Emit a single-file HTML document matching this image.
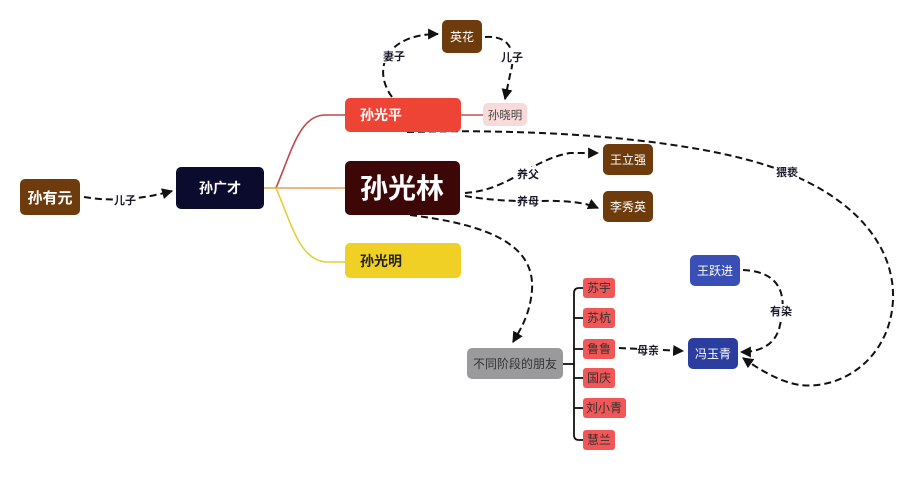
<!DOCTYPE html>
<html>
<head>
<meta charset="utf-8">
<style>
  html,body{margin:0;padding:0;background:#fff;}
  svg{display:block;}
  text{font-family:"Liberation Sans","Noto Sans CJK SC",sans-serif;}
</style>
</head>
<body>
<svg width="915" height="500" viewBox="0 0 915 500" xmlns="http://www.w3.org/2000/svg">
  <defs>
    <marker id="ah" viewBox="0 0 10 10" refX="9" refY="5" markerWidth="5.5" markerHeight="5.5" orient="auto-start-reverse">
      <path d="M0,0 L10,5 L0,10 z" fill="#111"/>
    </marker>
  </defs>
  <rect width="915" height="500" fill="#fff"/>

  <!-- solid branch lines from 孙广才 -->
  <path d="M264,188 L276,188" stroke="#d9b640" stroke-width="1.6" fill="none"/>
  <path d="M276,188 C292,150 300,115 325,115 L345,115" stroke="#c0474a" stroke-width="1.6" fill="none"/>
  <path d="M276,188 L345,188" stroke="#e8a050" stroke-width="1.6" fill="none"/>
  <path d="M276,188 C292,225 300,262 328,262 L345,262" stroke="#e6cf3a" stroke-width="1.6" fill="none"/>
  <!-- 孙光平 to 孙晓明 -->
  <path d="M461,115 L483,115" stroke="#c85055" stroke-width="1.4" fill="none"/>

  <!-- friends bracket -->
  <g stroke="#111" stroke-width="1.8" fill="none">
    <path d="M563,364 L574,364"/>
    <path d="M583,288 L579,288 Q574,288 574,293 L574,435 Q574,440 579,440 L583,440"/>
    <path d="M574,318 L583,318"/>
    <path d="M574,349 L583,349"/>
    <path d="M574,378 L583,378"/>
    <path d="M574,408 L583,408"/>
  </g>

  <!-- dashed connectors -->
  <g stroke="#111" stroke-width="2" fill="none" stroke-dasharray="7,4">
    <path d="M84,197 Q125,204 172,191" marker-end="url(#ah)"/>
    <path d="M392,97 C372,70 385,34 438,34" marker-end="url(#ah)"/>
    <path d="M485,37 C515,35 515,58 510,75 L505,99" marker-end="url(#ah)"/>
    <path d="M465,193 C510,190 530,160 570,153 L598,153" marker-end="url(#ah)"/>
    <path d="M465,196 Q500,202 540,201 Q580,200 598,208" marker-end="url(#ah)"/>
    <path d="M410,215 C490,225 535,245 532,290 C530,315 520,330 513,342" marker-end="url(#ah)"/>
    <path d="M619,348 L683,351" marker-end="url(#ah)"/>
    <path d="M743,270 C785,272 786,300 780,325 C776,345 760,352 741,352" marker-end="url(#ah)"/>
    <path d="M407,132 C550,128 700,140 780,170 C860,200 895,250 893,300 C890,360 840,390 800,385 C780,382 760,370 743,358" marker-end="url(#ah)"/>
  </g>

  <!-- connector labels -->
  <g font-size="11" font-weight="bold" fill="#1a1a2a" text-anchor="middle">
    <rect x="114" y="193" width="22" height="14" fill="#fff"/>
    <text x="125" y="204">儿子</text>
    <rect x="382" y="49" width="24" height="14" fill="#fff"/>
    <text x="394" y="60">妻子</text>
    <rect x="500" y="50" width="24" height="14" fill="#fff"/>
    <text x="512" y="61">儿子</text>
    <rect x="516" y="167" width="24" height="14" fill="#fff"/>
    <text x="528" y="178">养父</text>
    <rect x="516" y="194" width="24" height="14" fill="#fff"/>
    <text x="528" y="205">养母</text>
    <rect x="637" y="343" width="22" height="14" fill="#fff"/>
    <text x="648" y="354">母亲</text>
    <rect x="769" y="304" width="24" height="14" fill="#fff"/>
    <text x="781" y="315">有染</text>
    <rect x="775" y="165" width="24" height="14" fill="#fff"/>
    <text x="787" y="176">猥亵</text>
  </g>

  <!-- nodes -->
  <rect x="20" y="179" width="60" height="36" rx="5" fill="#6e3b0c"/>
  <text x="50" y="203" font-size="15" font-weight="bold" fill="#fff" text-anchor="middle">孙有元</text>

  <rect x="176" y="167" width="88" height="42" rx="5" fill="#0b0b2d"/>
  <text x="220" y="193" font-size="14" font-weight="bold" fill="#fff" text-anchor="middle">孙广才</text>

  <rect x="345" y="98" width="116" height="34" rx="5" fill="#ee4435"/>
  <text x="360" y="120" font-size="14" font-weight="bold" fill="#fff">孙光平</text>

  <rect x="483" y="103" width="44" height="23" rx="5" fill="#f8dada"/>
  <text x="505" y="119" font-size="11.5" fill="#444" text-anchor="middle">孙晓明</text>

  <rect x="442" y="20" width="40" height="33" rx="5" fill="#6e3b0c"/>
  <text x="462" y="41" font-size="12" fill="#fff" text-anchor="middle">英花</text>

  <rect x="345" y="161" width="115" height="54" rx="5" fill="#3d0707"/>
  <text x="402" y="198" font-size="28" font-weight="bold" fill="#fff" text-anchor="middle">孙光林</text>

  <rect x="345" y="243" width="116" height="35" rx="5" fill="#f0d024"/>
  <text x="360" y="266" font-size="14" font-weight="bold" fill="#222">孙光明</text>

  <rect x="603" y="144" width="50" height="31" rx="5" fill="#6e3b0c"/>
  <text x="628" y="164" font-size="12" fill="#fff" text-anchor="middle">王立强</text>

  <rect x="603" y="191" width="50" height="31" rx="5" fill="#6e3b0c"/>
  <text x="628" y="211" font-size="12" fill="#fff" text-anchor="middle">李秀英</text>

  <rect x="467" y="348" width="96" height="31" rx="5" fill="#9a9a9c"/>
  <text x="515" y="368" font-size="12" fill="#333" text-anchor="middle">不同阶段的朋友</text>

  <g font-size="12" fill="#333" text-anchor="middle">
    <rect x="583" y="278" width="32" height="20" rx="3" fill="#f25656"/>
    <text x="599" y="292">苏宇</text>
    <rect x="583" y="308" width="32" height="20" rx="3" fill="#f25656"/>
    <text x="599" y="322">苏杭</text>
    <rect x="583" y="339" width="32" height="20" rx="3" fill="#f25656"/>
    <text x="599" y="353">鲁鲁</text>
    <rect x="583" y="368" width="32" height="20" rx="3" fill="#f25656"/>
    <text x="599" y="382">国庆</text>
    <rect x="583" y="398" width="43" height="20" rx="3" fill="#f25656"/>
    <text x="604" y="412">刘小青</text>
    <rect x="583" y="430" width="32" height="20" rx="3" fill="#f25656"/>
    <text x="599" y="444">慧兰</text>
  </g>

  <rect x="690" y="255" width="50" height="31" rx="5" fill="#3a4fb5"/>
  <text x="715" y="275" font-size="12" fill="#fff" text-anchor="middle">王跃进</text>

  <rect x="688" y="338" width="50" height="31" rx="5" fill="#2b3d9e"/>
  <text x="713" y="358" font-size="12" fill="#fff" text-anchor="middle">冯玉青</text>
</svg>
</body>
</html>
